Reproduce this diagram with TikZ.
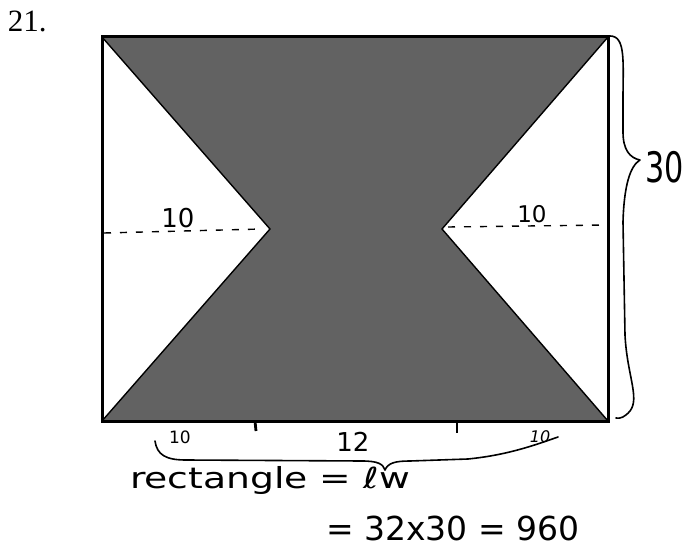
\documentclass[tikz,border=0pt]{standalone}
\usepackage{fontspec}
\setmainfont{Liberation Serif}
\newfontfamily\hand{DejaVu Sans}
\definecolor{bowgray}{RGB}{98,98,98}
\tikzset{
  frame/.style={line width=3pt, line join=miter},
  diag/.style={line width=1.4pt},
  dashline/.style={line width=1.4pt, dash pattern=on 7pt off 9pt},
  tickmark/.style={line width=2.8pt},
  brace/.style={line width=1.6pt, line cap=round, line join=round},
  hw/.style={inner sep=0pt, outer sep=0pt},
}
\begin{document}
\begin{tikzpicture}[x=1pt,y=-1pt]
\useasboundingbox (0,0) rectangle (686,559);
% corners and waist points
\coordinate (TL) at (102,37);
\coordinate (TR) at (608,37);
\coordinate (BR) at (608,421);
\coordinate (BL) at (102,421);
\coordinate (WL) at (270,229);
\coordinate (WR) at (442,229);
% shaded bow-tie
\fill[bowgray] (TL) -- (TR) -- (WR) -- (BR) -- (BL) -- (WL) -- cycle;
\draw[diag] (TL) -- (WL) -- (BL);
\draw[diag] (TR) -- (WR) -- (BR);
\draw[frame] (TL) rectangle (BR);
% dashed heights
\coordinate (DL) at (104,233);
\coordinate (DLe) at (262,229);
\coordinate (DRs) at (448,227);
\coordinate (DR) at (606,225);
\draw[dashline] (DL) -- (DLe);
\draw[dashline] (DRs) -- (DR);
% tick marks on bottom edge
\coordinate (T1) at (255,421);
\coordinate (T1e) at (256,431);
\coordinate (T2) at (457,421);
\coordinate (T2e) at (457,433);
\draw[tickmark] (T1) -- (T1e);
\draw[tickmark] (T2) -- (T2e);
% right brace
\coordinate (RB1) at (610,36);
\coordinate (RBt) at (640,160);
\coordinate (RB2) at (616,418);
\draw[brace] (RB1) .. controls (626,36) and (623,62) .. (623,100)
  -- (623,132) .. controls (623,150) and (630,158) .. (RBt)
  .. controls (630,166) and (624,186) .. (623,222)
  -- (625,335) .. controls (627,375) and (640,398) .. (630,411)
  .. controls (625,417) and (620,419) .. (RB2);
% bottom brace
\coordinate (BB1) at (155,441);
\coordinate (BBt) at (385,470);
\coordinate (BB2) at (558,437);
\draw[brace] (BB1) .. controls (157,455) and (166,460) .. (186,460)
  -- (362,461) .. controls (378,461) and (383,464) .. (BBt)
  .. controls (388,463) and (395,461) .. (410,461)
  -- (468,459) .. controls (508,455) and (535,445) .. (BB2);
% labels
\node[hw, anchor=base west, font=\fontsize{31}{31}\selectfont] (num) at (8,32) {21.};
\node[hw, font=\hand\fontsize{26}{26}\selectfont] (hL) at (178,218) {10};
\node[hw, font=\hand\fontsize{23}{23}\selectfont] (hR) at (532,214) {10};
\node[hw, font=\hand\fontsize{42}{42}\selectfont] (h30) at (665,167) {\scalebox{0.72}[1]{30}};
\node[hw, font=\hand\fontsize{17}{17}\selectfont] (bL) at (180,437) {10};
\node[hw, font=\hand\fontsize{26}{26}\selectfont] (b12) at (353,442) {12};
\node[hw, font=\hand\fontsize{16}{16}\selectfont] (bR) at (540,437) {\textit{10}};
\node[hw, anchor=base west, font=\hand\fontsize{29}{29}\selectfont] (rect) at (130,488) {\scalebox{1.3}[1]{rectangle = ℓw}};
\node[hw, anchor=base west, font=\hand\fontsize{33}{33}\selectfont] (calc) at (326,540) {= 32x30 = 960};
\end{tikzpicture}
\end{document}
